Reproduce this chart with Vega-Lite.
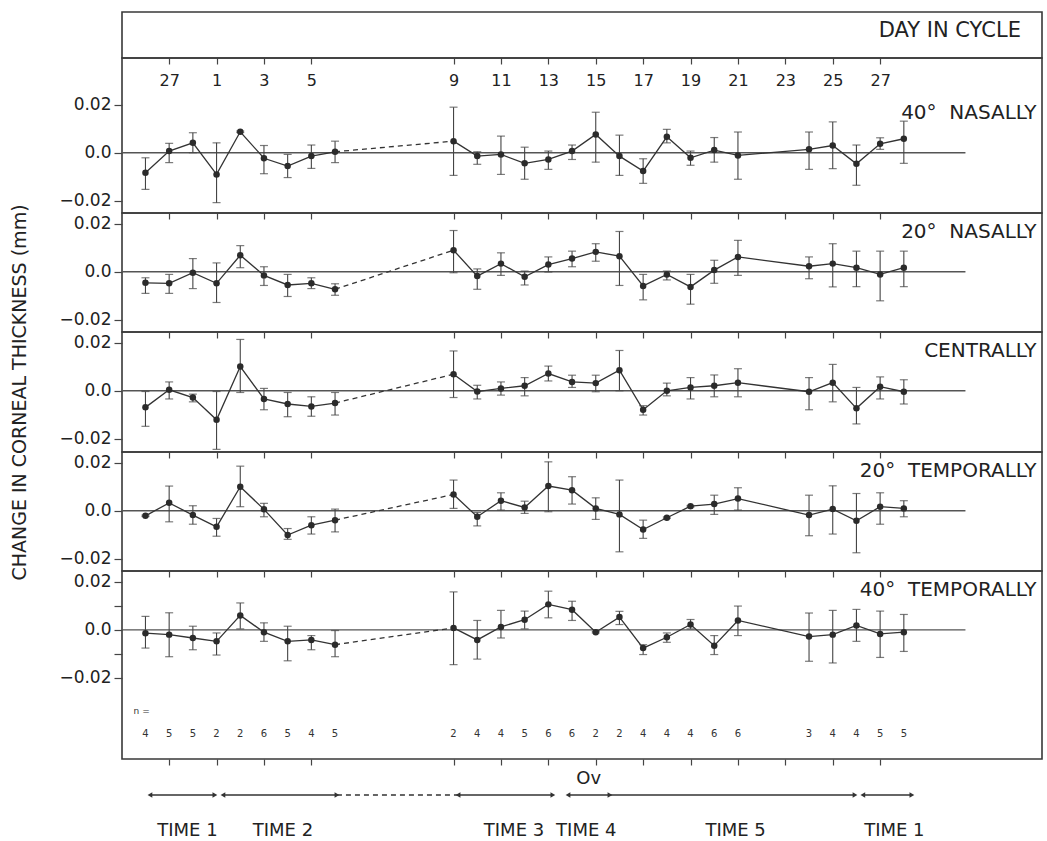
{
  "$schema": "https://vega.github.io/schema/vega-lite/v6.json",
  "padding": {"left": 10, "top": 11, "right": 5, "bottom": 0},
  "autosize": {"type": "pad"},
  "background": "white",
  "spacing": 0,
  "bounds": "flush",
  "datasets": {
    "N40": [
      {"pos": 0, "mean": -0.0083, "lo": -0.0152, "hi": -0.0021},
      {"pos": 1, "mean": 0.0007, "lo": -0.0041, "hi": 0.0039},
      {"pos": 2, "mean": 0.0041, "lo": 0.0, "hi": 0.0083},
      {"pos": 3, "mean": -0.009, "lo": -0.0207, "hi": 0.0041},
      {"pos": 4, "mean": 0.0087, "lo": 0.0084, "hi": 0.009},
      {"pos": 5, "mean": -0.0023, "lo": -0.0087, "hi": 0.003},
      {"pos": 6, "mean": -0.0055, "lo": -0.0103, "hi": -0.0007},
      {"pos": 7, "mean": -0.0014, "lo": -0.0065, "hi": 0.0032},
      {"pos": 8, "mean": 0.0004, "lo": -0.0041, "hi": 0.0048},
      {"pos": 13, "mean": 0.0048, "lo": -0.0094, "hi": 0.0189},
      {"pos": 14, "mean": -0.0014, "lo": -0.0048, "hi": 0.0004},
      {"pos": 15, "mean": -0.0007, "lo": -0.009, "hi": 0.0069},
      {"pos": 16, "mean": -0.0044, "lo": -0.011, "hi": 0.0023},
      {"pos": 17, "mean": -0.0028, "lo": -0.0069, "hi": 0.0007},
      {"pos": 18, "mean": 0.0007, "lo": -0.0028, "hi": 0.0032},
      {"pos": 19, "mean": 0.0076, "lo": -0.0039, "hi": 0.0168},
      {"pos": 20, "mean": -0.0014, "lo": -0.0094, "hi": 0.0073},
      {"pos": 21, "mean": -0.0076, "lo": -0.0127, "hi": -0.0025},
      {"pos": 22, "mean": 0.0066, "lo": 0.0041, "hi": 0.0097},
      {"pos": 23, "mean": -0.0021, "lo": -0.0052, "hi": 0.0007},
      {"pos": 24, "mean": 0.0011, "lo": -0.0039, "hi": 0.0063},
      {"pos": 25, "mean": -0.0011, "lo": -0.011, "hi": 0.0086},
      {"pos": 28, "mean": 0.0014, "lo": -0.0069, "hi": 0.0086},
      {"pos": 29, "mean": 0.003, "lo": -0.0066, "hi": 0.0128},
      {"pos": 30, "mean": -0.0046, "lo": -0.0135, "hi": 0.0032},
      {"pos": 31, "mean": 0.0037, "lo": 0.0014, "hi": 0.0062},
      {"pos": 32, "mean": 0.0058, "lo": -0.0044, "hi": 0.0131}
    ],
    "N20": [
      {"pos": 0, "mean": -0.0046, "lo": -0.009, "hi": -0.0025},
      {"pos": 1, "mean": -0.0048, "lo": -0.009, "hi": -0.0011},
      {"pos": 2, "mean": -0.0004, "lo": -0.007, "hi": 0.0055},
      {"pos": 3, "mean": -0.0048, "lo": -0.0128, "hi": 0.0037},
      {"pos": 4, "mean": 0.0069, "lo": 0.0017, "hi": 0.0109},
      {"pos": 5, "mean": -0.0015, "lo": -0.0057, "hi": 0.0021},
      {"pos": 6, "mean": -0.0055, "lo": -0.0103, "hi": -0.0011},
      {"pos": 7, "mean": -0.0048, "lo": -0.007, "hi": -0.0025},
      {"pos": 8, "mean": -0.0073, "lo": -0.0098, "hi": -0.005},
      {"pos": 13, "mean": 0.009, "lo": -0.0004, "hi": 0.0172},
      {"pos": 14, "mean": -0.0018, "lo": -0.0073, "hi": 0.0012},
      {"pos": 15, "mean": 0.0034, "lo": -0.0015, "hi": 0.0079},
      {"pos": 16, "mean": -0.0021, "lo": -0.0055, "hi": 0.0003},
      {"pos": 17, "mean": 0.003, "lo": -0.0001, "hi": 0.0062},
      {"pos": 18, "mean": 0.0055, "lo": 0.0021, "hi": 0.0086},
      {"pos": 19, "mean": 0.0083, "lo": 0.0044, "hi": 0.0117},
      {"pos": 20, "mean": 0.0065, "lo": -0.0057, "hi": 0.0168},
      {"pos": 21, "mean": -0.0059, "lo": -0.0117, "hi": -0.0011},
      {"pos": 22, "mean": -0.0011, "lo": -0.0034, "hi": 0.0003},
      {"pos": 23, "mean": -0.0063, "lo": -0.0135, "hi": -0.0011},
      {"pos": 24, "mean": 0.0007, "lo": -0.0048, "hi": 0.0048},
      {"pos": 25, "mean": 0.0062, "lo": -0.0015, "hi": 0.0131},
      {"pos": 28, "mean": 0.0023, "lo": -0.0029, "hi": 0.0062},
      {"pos": 29, "mean": 0.0034, "lo": -0.0063, "hi": 0.0117},
      {"pos": 30, "mean": 0.0017, "lo": -0.0062, "hi": 0.0086},
      {"pos": 31, "mean": -0.0011, "lo": -0.0121, "hi": 0.0086},
      {"pos": 32, "mean": 0.0017, "lo": -0.0062, "hi": 0.0086}
    ],
    "C": [
      {"pos": 0, "mean": -0.0069, "lo": -0.0148, "hi": -0.0003},
      {"pos": 1, "mean": 0.0004, "lo": -0.0034, "hi": 0.0037},
      {"pos": 2, "mean": -0.0028, "lo": -0.0046, "hi": -0.0014},
      {"pos": 3, "mean": -0.0121, "lo": -0.0244, "hi": -0.0003},
      {"pos": 4, "mean": 0.0101, "lo": -0.0007, "hi": 0.0214},
      {"pos": 5, "mean": -0.0034, "lo": -0.0079, "hi": 0.001},
      {"pos": 6, "mean": -0.0055, "lo": -0.0108, "hi": -0.0007},
      {"pos": 7, "mean": -0.0065, "lo": -0.0106, "hi": -0.0025},
      {"pos": 8, "mean": -0.0051, "lo": -0.0101, "hi": -0.0007},
      {"pos": 13, "mean": 0.0069, "lo": -0.0028, "hi": 0.0166},
      {"pos": 14, "mean": -0.0003, "lo": -0.0034, "hi": 0.0023},
      {"pos": 15, "mean": 0.001, "lo": -0.0018, "hi": 0.0037},
      {"pos": 16, "mean": 0.0021, "lo": -0.0021, "hi": 0.0055},
      {"pos": 17, "mean": 0.0072, "lo": 0.0041, "hi": 0.0103},
      {"pos": 18, "mean": 0.0037, "lo": 0.0014, "hi": 0.0065},
      {"pos": 19, "mean": 0.0032, "lo": -0.0004, "hi": 0.0065},
      {"pos": 20, "mean": 0.0086, "lo": 0.0, "hi": 0.0168},
      {"pos": 21, "mean": -0.0079, "lo": -0.0101, "hi": -0.0062},
      {"pos": 22, "mean": 0.0, "lo": -0.0021, "hi": 0.0032},
      {"pos": 23, "mean": 0.0014, "lo": -0.0034, "hi": 0.0055},
      {"pos": 24, "mean": 0.0021, "lo": -0.0025, "hi": 0.0066},
      {"pos": 25, "mean": 0.0034, "lo": -0.0025, "hi": 0.0092},
      {"pos": 28, "mean": -0.0004, "lo": -0.0079, "hi": 0.0055},
      {"pos": 29, "mean": 0.0034, "lo": -0.0046, "hi": 0.011},
      {"pos": 30, "mean": -0.0073, "lo": -0.0138, "hi": 0.0014},
      {"pos": 31, "mean": 0.0017, "lo": -0.0034, "hi": 0.0058},
      {"pos": 32, "mean": -0.0004, "lo": -0.0055, "hi": 0.0046}
    ],
    "T20": [
      {"pos": 0, "mean": -0.0021, "lo": -0.0024, "hi": -0.0018},
      {"pos": 1, "mean": 0.0033, "lo": -0.0046, "hi": 0.0103},
      {"pos": 2, "mean": -0.0018, "lo": -0.0056, "hi": 0.0021},
      {"pos": 3, "mean": -0.0067, "lo": -0.0106, "hi": -0.0032},
      {"pos": 4, "mean": 0.01, "lo": 0.0017, "hi": 0.0186},
      {"pos": 5, "mean": 0.0006, "lo": -0.0025, "hi": 0.0031},
      {"pos": 6, "mean": -0.0101, "lo": -0.0119, "hi": -0.0074},
      {"pos": 7, "mean": -0.006, "lo": -0.0097, "hi": -0.0025},
      {"pos": 8, "mean": -0.0039, "lo": -0.0088, "hi": 0.0007},
      {"pos": 13, "mean": 0.0068, "lo": 0.001, "hi": 0.0128},
      {"pos": 14, "mean": -0.0025, "lo": -0.0063, "hi": -0.0007},
      {"pos": 15, "mean": 0.0042, "lo": 0.0003, "hi": 0.0075},
      {"pos": 16, "mean": 0.0014, "lo": -0.0011, "hi": 0.004},
      {"pos": 17, "mean": 0.0103, "lo": -0.0004, "hi": 0.0204},
      {"pos": 18, "mean": 0.0086, "lo": 0.0028, "hi": 0.0142},
      {"pos": 19, "mean": 0.001, "lo": -0.0036, "hi": 0.0054},
      {"pos": 20, "mean": -0.0015, "lo": -0.0171, "hi": 0.0128},
      {"pos": 21, "mean": -0.0078, "lo": -0.0115, "hi": -0.0039},
      {"pos": 22, "mean": -0.0029, "lo": -0.0032, "hi": -0.0026},
      {"pos": 23, "mean": 0.0019, "lo": 0.0016, "hi": 0.0022},
      {"pos": 24, "mean": 0.0028, "lo": -0.0015, "hi": 0.0065},
      {"pos": 25, "mean": 0.0051, "lo": 0.0003, "hi": 0.0096},
      {"pos": 28, "mean": -0.0018, "lo": -0.0104, "hi": 0.0065},
      {"pos": 29, "mean": 0.0007, "lo": -0.0097, "hi": 0.0104},
      {"pos": 30, "mean": -0.0042, "lo": -0.0175, "hi": 0.0072},
      {"pos": 31, "mean": 0.0017, "lo": -0.0056, "hi": 0.0075},
      {"pos": 32, "mean": 0.001, "lo": -0.0025, "hi": 0.0042}
    ],
    "T40": [
      {"pos": 0, "mean": -0.0014, "lo": -0.0076, "hi": 0.0056},
      {"pos": 1, "mean": -0.002, "lo": -0.0112, "hi": 0.0071},
      {"pos": 2, "mean": -0.0034, "lo": -0.0083, "hi": 0.0015},
      {"pos": 3, "mean": -0.0048, "lo": -0.0105, "hi": -0.0013},
      {"pos": 4, "mean": 0.006, "lo": 0.0004, "hi": 0.0112},
      {"pos": 5, "mean": -0.001, "lo": -0.0048, "hi": 0.0029},
      {"pos": 6, "mean": -0.0048, "lo": -0.0129, "hi": 0.0015},
      {"pos": 7, "mean": -0.0042, "lo": -0.0083, "hi": -0.0024},
      {"pos": 8, "mean": -0.0062, "lo": -0.0112, "hi": -0.0003},
      {"pos": 13, "mean": 0.0008, "lo": -0.0145, "hi": 0.0158},
      {"pos": 14, "mean": -0.0042, "lo": -0.0122, "hi": 0.0039},
      {"pos": 15, "mean": 0.0012, "lo": -0.0034, "hi": 0.0081},
      {"pos": 16, "mean": 0.0042, "lo": 0.0004, "hi": 0.0078},
      {"pos": 17, "mean": 0.0106, "lo": 0.005, "hi": 0.0161},
      {"pos": 18, "mean": 0.0084, "lo": 0.0039, "hi": 0.0119},
      {"pos": 19, "mean": -0.001, "lo": -0.0013, "hi": -0.0007},
      {"pos": 20, "mean": 0.0053, "lo": 0.0022, "hi": 0.0077},
      {"pos": 21, "mean": -0.0076, "lo": -0.0103, "hi": -0.0062},
      {"pos": 22, "mean": -0.0031, "lo": -0.0052, "hi": -0.0013},
      {"pos": 23, "mean": 0.0022, "lo": 0.0004, "hi": 0.0043},
      {"pos": 24, "mean": -0.0066, "lo": -0.0103, "hi": -0.0024},
      {"pos": 25, "mean": 0.0039, "lo": -0.0024, "hi": 0.0099},
      {"pos": 28, "mean": -0.0028, "lo": -0.0131, "hi": 0.007},
      {"pos": 29, "mean": -0.002, "lo": -0.0138, "hi": 0.0081},
      {"pos": 30, "mean": 0.0018, "lo": -0.0048, "hi": 0.0085},
      {"pos": 31, "mean": -0.0017, "lo": -0.0115, "hi": 0.0078},
      {"pos": 32, "mean": -0.001, "lo": -0.009, "hi": 0.0064}
    ],
    "counts": [
      {"pos": 0, "n": 4}, {"pos": 1, "n": 5}, {"pos": 2, "n": 5}, {"pos": 3, "n": 2},
      {"pos": 4, "n": 2}, {"pos": 5, "n": 6}, {"pos": 6, "n": 5}, {"pos": 7, "n": 4},
      {"pos": 8, "n": 5}, {"pos": 13, "n": 2}, {"pos": 14, "n": 4}, {"pos": 15, "n": 4},
      {"pos": 16, "n": 5}, {"pos": 17, "n": 6}, {"pos": 18, "n": 6}, {"pos": 19, "n": 2},
      {"pos": 20, "n": 2}, {"pos": 21, "n": 4}, {"pos": 22, "n": 4}, {"pos": 23, "n": 4},
      {"pos": 24, "n": 6}, {"pos": 25, "n": 6}, {"pos": 28, "n": 3}, {"pos": 29, "n": 4},
      {"pos": 30, "n": 4}, {"pos": 31, "n": 5}, {"pos": 32, "n": 5}
    ],
    "spans": [
      {"from": 0.19, "to": 2.93, "style": "solid"},
      {"from": 3.27, "to": 8.08, "style": "solid"},
      {"from": 8.08, "to": 13.19, "style": "dashed"},
      {"from": 13.19, "to": 17.19, "style": "solid"},
      {"from": 17.83, "to": 19.6, "style": "solid"},
      {"from": 19.6, "to": 29.94, "style": "solid"},
      {"from": 30.27, "to": 32.34, "style": "solid"}
    ],
    "heads": [
      {"at": 0.19, "dir": "left"}, {"at": 2.93, "dir": "right"},
      {"at": 3.27, "dir": "left"}, {"at": 8.08, "dir": "right"},
      {"at": 13.19, "dir": "left"}, {"at": 17.19, "dir": "right"},
      {"at": 17.83, "dir": "left"}, {"at": 19.6, "dir": "right"},
      {"at": 29.94, "dir": "right"},
      {"at": 30.27, "dir": "left"}, {"at": 32.34, "dir": "right"}
    ],
    "periods": [
      {"label": "TIME 1", "at": 1.77},
      {"label": "TIME 2", "at": 5.8},
      {"label": "TIME 3", "at": 15.55},
      {"label": "TIME 4", "at": 18.6},
      {"label": "TIME 5", "at": 24.9},
      {"label": "TIME 1", "at": 31.6}
    ]
  },
  "vconcat": [
    {
      "width": 920,
      "height": 46,
      "data": {"values": [{"label": "DAY IN CYCLE"}]},
      "mark": {"type": "text", "align": "right", "baseline": "middle", "fontSize": 21, "color": "#222"},
      "encoding": {
        "x": {"datum": 36.94, "type": "quantitative",
              "scale": {"domain": [-0.99, 37.83], "nice": false, "zero": false},
              "axis": {"values": [1, 3, 5, 7, 13, 15, 17, 19, 21, 23, 25, 27, 29, 31], "tickSize": 6, "labelPadding": 8, "labelFontSize": 16,
                       "labelExpr": "datum.value < 3 ? datum.value + 26 : (datum.value < 13 ? datum.value - 2 : datum.value - 4)", "title": null}},
        "y": {"datum": 0.42, "type": "quantitative", "scale": {"domain": [0, 1], "reverse": true}, "axis": null},
        "text": {"field": "label"}
      }
    },
    {
      "width": 920,
      "height": 155,
      "data": {"name": "N40"},
      "layer": [
        {"data": {"values": [{}]}, "mark": {"type": "rule", "color": "#555", "strokeWidth": 1.4},
         "encoding": {"x": {"datum": -0.99, "type": "quantitative", "scale": {"domain": [-0.99, 37.83], "nice": false, "zero": false}},
                      "x2": {"datum": 34.6},
                      "y": {"datum": 0, "type": "quantitative", "scale": {"domain": [-0.025, 0.0393], "nice": false, "zero": false}}}},
        {"transform": [{"filter": "datum.pos <= 8"}], "mark": {"type": "line", "color": "#333", "strokeWidth": 1.3},
         "encoding": {"x": {"field": "pos", "type": "quantitative", "scale": {"domain": [-0.99, 37.83], "nice": false, "zero": false},
                            "axis": {"values": [1, 3, 5, 7, 13, 15, 17, 19, 21, 23, 25, 27, 29, 31], "labels": false, "tickSize": 6, "title": null}},
                      "y": {"field": "mean", "type": "quantitative", "scale": {"domain": [-0.025, 0.0393], "nice": false, "zero": false},
                            "axis": {"values": [-0.02, -0.01, 0, 0.01, 0.02], "tickSize": 8, "labelPadding": 3, "labelFontSize": 17, "title": null,
                                     "labelExpr": "datum.value == 0 ? '0.0' : (abs(datum.value) < 0.015 ? '' : format(datum.value, '.2f'))"}}}},
        {"transform": [{"filter": "datum.pos >= 13"}], "mark": {"type": "line", "color": "#333", "strokeWidth": 1.3},
         "encoding": {"x": {"field": "pos", "type": "quantitative"}, "y": {"field": "mean", "type": "quantitative"}}},
        {"transform": [{"filter": "datum.pos == 8 || datum.pos == 13"}], "mark": {"type": "line", "color": "#333", "strokeWidth": 1.3, "strokeDash": [5, 4]},
         "encoding": {"x": {"field": "pos", "type": "quantitative"}, "y": {"field": "mean", "type": "quantitative"}}},
        {"mark": {"type": "rule", "color": "#444", "strokeWidth": 1.1},
         "encoding": {"x": {"field": "pos", "type": "quantitative"}, "y": {"field": "lo", "type": "quantitative"}, "y2": {"field": "hi"}}},
        {"mark": {"type": "tick", "orient": "horizontal", "size": 8, "thickness": 1.2, "color": "#444"},
         "encoding": {"x": {"field": "pos", "type": "quantitative"}, "y": {"field": "lo", "type": "quantitative"}}},
        {"mark": {"type": "tick", "orient": "horizontal", "size": 8, "thickness": 1.2, "color": "#444"},
         "encoding": {"x": {"field": "pos", "type": "quantitative"}, "y": {"field": "hi", "type": "quantitative"}}},
        {"mark": {"type": "circle", "size": 42, "color": "#2b2b2b", "opacity": 1},
         "encoding": {"x": {"field": "pos", "type": "quantitative"}, "y": {"field": "mean", "type": "quantitative"}}},
        {"data": {"values": [{"name": "40°\u00a0 NASALLY"}]},
         "mark": {"type": "text", "align": "right", "baseline": "middle", "fontSize": 20, "color": "#222"},
         "encoding": {"x": {"datum": 37.6, "type": "quantitative"}, "y": {"datum": 0.0166, "type": "quantitative"}, "text": {"field": "name"}}}
      ]
    },
    {
      "width": 920,
      "height": 119,
      "data": {"name": "N20"},
      "layer": [
        {"data": {"values": [{}]}, "mark": {"type": "rule", "color": "#555", "strokeWidth": 1.4},
         "encoding": {"x": {"datum": -0.99, "type": "quantitative", "scale": {"domain": [-0.99, 37.83], "nice": false, "zero": false}},
                      "x2": {"datum": 34.6},
                      "y": {"datum": 0, "type": "quantitative", "scale": {"domain": [-0.0251, 0.0245], "nice": false, "zero": false}}}},
        {"transform": [{"filter": "datum.pos <= 8"}], "mark": {"type": "line", "color": "#333", "strokeWidth": 1.3},
         "encoding": {"x": {"field": "pos", "type": "quantitative", "scale": {"domain": [-0.99, 37.83], "nice": false, "zero": false},
                            "axis": {"values": [1, 3, 5, 7, 13, 15, 17, 19, 21, 23, 25, 27, 29, 31], "labels": false, "tickSize": 6, "title": null}},
                      "y": {"field": "mean", "type": "quantitative", "scale": {"domain": [-0.0251, 0.0245], "nice": false, "zero": false},
                            "axis": {"values": [-0.02, -0.01, 0, 0.01, 0.02], "tickSize": 8, "labelPadding": 3, "labelFontSize": 17, "title": null,
                                     "labelExpr": "datum.value == 0 ? '0.0' : (abs(datum.value) < 0.015 ? '' : format(datum.value, '.2f'))"}}}},
        {"transform": [{"filter": "datum.pos >= 13"}], "mark": {"type": "line", "color": "#333", "strokeWidth": 1.3},
         "encoding": {"x": {"field": "pos", "type": "quantitative"}, "y": {"field": "mean", "type": "quantitative"}}},
        {"transform": [{"filter": "datum.pos == 8 || datum.pos == 13"}], "mark": {"type": "line", "color": "#333", "strokeWidth": 1.3, "strokeDash": [5, 4]},
         "encoding": {"x": {"field": "pos", "type": "quantitative"}, "y": {"field": "mean", "type": "quantitative"}}},
        {"mark": {"type": "rule", "color": "#444", "strokeWidth": 1.1},
         "encoding": {"x": {"field": "pos", "type": "quantitative"}, "y": {"field": "lo", "type": "quantitative"}, "y2": {"field": "hi"}}},
        {"mark": {"type": "tick", "orient": "horizontal", "size": 8, "thickness": 1.2, "color": "#444"},
         "encoding": {"x": {"field": "pos", "type": "quantitative"}, "y": {"field": "lo", "type": "quantitative"}}},
        {"mark": {"type": "tick", "orient": "horizontal", "size": 8, "thickness": 1.2, "color": "#444"},
         "encoding": {"x": {"field": "pos", "type": "quantitative"}, "y": {"field": "hi", "type": "quantitative"}}},
        {"mark": {"type": "circle", "size": 42, "color": "#2b2b2b", "opacity": 1},
         "encoding": {"x": {"field": "pos", "type": "quantitative"}, "y": {"field": "mean", "type": "quantitative"}}},
        {"data": {"values": [{"name": "20°\u00a0 NASALLY"}]},
         "mark": {"type": "text", "align": "right", "baseline": "middle", "fontSize": 20, "color": "#222"},
         "encoding": {"x": {"datum": 37.6, "type": "quantitative"}, "y": {"datum": 0.0166, "type": "quantitative"}, "text": {"field": "name"}}}
      ]
    },
    {
      "width": 920,
      "height": 120,
      "data": {"name": "C"},
      "layer": [
        {"data": {"values": [{}]}, "mark": {"type": "rule", "color": "#555", "strokeWidth": 1.4},
         "encoding": {"x": {"datum": -0.99, "type": "quantitative", "scale": {"domain": [-0.99, 37.83], "nice": false, "zero": false}},
                      "x2": {"datum": 34.6},
                      "y": {"datum": 0, "type": "quantitative", "scale": {"domain": [-0.0255, 0.0245], "nice": false, "zero": false}}}},
        {"transform": [{"filter": "datum.pos <= 8"}], "mark": {"type": "line", "color": "#333", "strokeWidth": 1.3},
         "encoding": {"x": {"field": "pos", "type": "quantitative", "scale": {"domain": [-0.99, 37.83], "nice": false, "zero": false},
                            "axis": {"values": [1, 3, 5, 7, 13, 15, 17, 19, 21, 23, 25, 27, 29, 31], "labels": false, "tickSize": 6, "title": null}},
                      "y": {"field": "mean", "type": "quantitative", "scale": {"domain": [-0.0255, 0.0245], "nice": false, "zero": false},
                            "axis": {"values": [-0.02, -0.01, 0, 0.01, 0.02], "tickSize": 8, "labelPadding": 3, "labelFontSize": 17,
                                     "title": "CHANGE IN CORNEAL THICKNESS (mm)", "titleFontSize": 19, "titlePadding": 29, "titleColor": "#222",
                                     "labelExpr": "datum.value == 0 ? '0.0' : (abs(datum.value) < 0.015 ? '' : format(datum.value, '.2f'))"}}}},
        {"transform": [{"filter": "datum.pos >= 13"}], "mark": {"type": "line", "color": "#333", "strokeWidth": 1.3},
         "encoding": {"x": {"field": "pos", "type": "quantitative"}, "y": {"field": "mean", "type": "quantitative"}}},
        {"transform": [{"filter": "datum.pos == 8 || datum.pos == 13"}], "mark": {"type": "line", "color": "#333", "strokeWidth": 1.3, "strokeDash": [5, 4]},
         "encoding": {"x": {"field": "pos", "type": "quantitative"}, "y": {"field": "mean", "type": "quantitative"}}},
        {"mark": {"type": "rule", "color": "#444", "strokeWidth": 1.1},
         "encoding": {"x": {"field": "pos", "type": "quantitative"}, "y": {"field": "lo", "type": "quantitative"}, "y2": {"field": "hi"}}},
        {"mark": {"type": "tick", "orient": "horizontal", "size": 8, "thickness": 1.2, "color": "#444"},
         "encoding": {"x": {"field": "pos", "type": "quantitative"}, "y": {"field": "lo", "type": "quantitative"}}},
        {"mark": {"type": "tick", "orient": "horizontal", "size": 8, "thickness": 1.2, "color": "#444"},
         "encoding": {"x": {"field": "pos", "type": "quantitative"}, "y": {"field": "hi", "type": "quantitative"}}},
        {"mark": {"type": "circle", "size": 42, "color": "#2b2b2b", "opacity": 1},
         "encoding": {"x": {"field": "pos", "type": "quantitative"}, "y": {"field": "mean", "type": "quantitative"}}},
        {"data": {"values": [{"name": "CENTRALLY"}]},
         "mark": {"type": "text", "align": "right", "baseline": "middle", "fontSize": 20, "color": "#222"},
         "encoding": {"x": {"datum": 37.6, "type": "quantitative"}, "y": {"datum": 0.0166, "type": "quantitative"}, "text": {"field": "name"}}}
      ]
    },
    {
      "width": 920,
      "height": 119,
      "data": {"name": "T20"},
      "layer": [
        {"data": {"values": [{}]}, "mark": {"type": "rule", "color": "#555", "strokeWidth": 1.4},
         "encoding": {"x": {"datum": -0.99, "type": "quantitative", "scale": {"domain": [-0.99, 37.83], "nice": false, "zero": false}},
                      "x2": {"datum": 34.6},
                      "y": {"datum": 0, "type": "quantitative", "scale": {"domain": [-0.0251, 0.0245], "nice": false, "zero": false}}}},
        {"transform": [{"filter": "datum.pos <= 8"}], "mark": {"type": "line", "color": "#333", "strokeWidth": 1.3},
         "encoding": {"x": {"field": "pos", "type": "quantitative", "scale": {"domain": [-0.99, 37.83], "nice": false, "zero": false},
                            "axis": {"values": [1, 3, 5, 7, 13, 15, 17, 19, 21, 23, 25, 27, 29, 31], "labels": false, "tickSize": 6, "title": null}},
                      "y": {"field": "mean", "type": "quantitative", "scale": {"domain": [-0.0251, 0.0245], "nice": false, "zero": false},
                            "axis": {"values": [-0.02, -0.01, 0, 0.01, 0.02], "tickSize": 8, "labelPadding": 3, "labelFontSize": 17, "title": null,
                                     "labelExpr": "datum.value == 0 ? '0.0' : (abs(datum.value) < 0.015 ? '' : format(datum.value, '.2f'))"}}}},
        {"transform": [{"filter": "datum.pos >= 13"}], "mark": {"type": "line", "color": "#333", "strokeWidth": 1.3},
         "encoding": {"x": {"field": "pos", "type": "quantitative"}, "y": {"field": "mean", "type": "quantitative"}}},
        {"transform": [{"filter": "datum.pos == 8 || datum.pos == 13"}], "mark": {"type": "line", "color": "#333", "strokeWidth": 1.3, "strokeDash": [5, 4]},
         "encoding": {"x": {"field": "pos", "type": "quantitative"}, "y": {"field": "mean", "type": "quantitative"}}},
        {"mark": {"type": "rule", "color": "#444", "strokeWidth": 1.1},
         "encoding": {"x": {"field": "pos", "type": "quantitative"}, "y": {"field": "lo", "type": "quantitative"}, "y2": {"field": "hi"}}},
        {"mark": {"type": "tick", "orient": "horizontal", "size": 8, "thickness": 1.2, "color": "#444"},
         "encoding": {"x": {"field": "pos", "type": "quantitative"}, "y": {"field": "lo", "type": "quantitative"}}},
        {"mark": {"type": "tick", "orient": "horizontal", "size": 8, "thickness": 1.2, "color": "#444"},
         "encoding": {"x": {"field": "pos", "type": "quantitative"}, "y": {"field": "hi", "type": "quantitative"}}},
        {"mark": {"type": "circle", "size": 42, "color": "#2b2b2b", "opacity": 1},
         "encoding": {"x": {"field": "pos", "type": "quantitative"}, "y": {"field": "mean", "type": "quantitative"}}},
        {"data": {"values": [{"name": "20°\u00a0 TEMPORALLY"}]},
         "mark": {"type": "text", "align": "right", "baseline": "middle", "fontSize": 20, "color": "#222"},
         "encoding": {"x": {"datum": 37.6, "type": "quantitative"}, "y": {"datum": 0.0166, "type": "quantitative"}, "text": {"field": "name"}}}
      ]
    },
    {
      "width": 920,
      "height": 188,
      "data": {"name": "T40"},
      "layer": [
        {"data": {"values": [{}]}, "mark": {"type": "rule", "color": "#555", "strokeWidth": 1.4},
         "encoding": {"x": {"datum": -0.99, "type": "quantitative", "scale": {"domain": [-0.99, 37.83], "nice": false, "zero": false}},
                      "x2": {"datum": 34.6},
                      "y": {"datum": 0, "type": "quantitative", "scale": {"domain": [-0.0538, 0.0245], "nice": false, "zero": false}}}},
        {"transform": [{"filter": "datum.pos <= 8"}], "mark": {"type": "line", "color": "#333", "strokeWidth": 1.3},
         "encoding": {"x": {"field": "pos", "type": "quantitative", "scale": {"domain": [-0.99, 37.83], "nice": false, "zero": false},
                            "axis": {"values": [1, 3, 5, 7, 13, 15, 17, 19, 21, 23, 25, 27, 29, 31], "labels": false, "tickSize": 6, "title": null}},
                      "y": {"field": "mean", "type": "quantitative", "scale": {"domain": [-0.0538, 0.0245], "nice": false, "zero": false},
                            "axis": {"values": [-0.02, -0.01, 0, 0.01, 0.02], "tickSize": 8, "labelPadding": 3, "labelFontSize": 17, "title": null,
                                     "labelExpr": "datum.value == 0 ? '0.0' : (abs(datum.value) < 0.015 ? '' : format(datum.value, '.2f'))"}}}},
        {"transform": [{"filter": "datum.pos >= 13"}], "mark": {"type": "line", "color": "#333", "strokeWidth": 1.3},
         "encoding": {"x": {"field": "pos", "type": "quantitative"}, "y": {"field": "mean", "type": "quantitative"}}},
        {"transform": [{"filter": "datum.pos == 8 || datum.pos == 13"}], "mark": {"type": "line", "color": "#333", "strokeWidth": 1.3, "strokeDash": [5, 4]},
         "encoding": {"x": {"field": "pos", "type": "quantitative"}, "y": {"field": "mean", "type": "quantitative"}}},
        {"mark": {"type": "rule", "color": "#444", "strokeWidth": 1.1},
         "encoding": {"x": {"field": "pos", "type": "quantitative"}, "y": {"field": "lo", "type": "quantitative"}, "y2": {"field": "hi"}}},
        {"mark": {"type": "tick", "orient": "horizontal", "size": 8, "thickness": 1.2, "color": "#444"},
         "encoding": {"x": {"field": "pos", "type": "quantitative"}, "y": {"field": "lo", "type": "quantitative"}}},
        {"mark": {"type": "tick", "orient": "horizontal", "size": 8, "thickness": 1.2, "color": "#444"},
         "encoding": {"x": {"field": "pos", "type": "quantitative"}, "y": {"field": "hi", "type": "quantitative"}}},
        {"mark": {"type": "circle", "size": 42, "color": "#2b2b2b", "opacity": 1},
         "encoding": {"x": {"field": "pos", "type": "quantitative"}, "y": {"field": "mean", "type": "quantitative"}}},
        {"data": {"values": [{"name": "40°\u00a0 TEMPORALLY"}]},
         "mark": {"type": "text", "align": "right", "baseline": "middle", "fontSize": 20, "color": "#222"},
         "encoding": {"x": {"datum": 37.6, "type": "quantitative"}, "y": {"datum": 0.0166, "type": "quantitative"}, "text": {"field": "name"}}},
        {"data": {"name": "counts"},
         "mark": {"type": "text", "baseline": "middle", "fontSize": 10, "color": "#333"},
         "encoding": {"x": {"field": "pos", "type": "quantitative"}, "y": {"datum": -0.0435, "type": "quantitative"}, "text": {"field": "n"}}},
        {"data": {"values": [{"t": "n ="}]},
         "mark": {"type": "text", "baseline": "middle", "fontSize": 9, "color": "#333"},
         "encoding": {"x": {"datum": -0.16, "type": "quantitative"}, "y": {"datum": -0.0339, "type": "quantitative"}, "text": {"field": "t"}}}
      ]
    },
    {
      "width": 920,
      "height": 83,
      "view": {"stroke": null},
      "layer": [
        {"data": {"name": "spans"}, "transform": [{"filter": "datum.style == 'solid'"}],
         "mark": {"type": "rule", "color": "#333", "strokeWidth": 1.3},
         "encoding": {"x": {"field": "from", "type": "quantitative", "scale": {"domain": [-0.99, 37.83], "nice": false, "zero": false}, "axis": null},
                      "x2": {"field": "to"},
                      "y": {"datum": 0.434, "type": "quantitative", "scale": {"domain": [0, 1], "reverse": true}, "axis": null}}},
        {"data": {"name": "spans"}, "transform": [{"filter": "datum.style == 'dashed'"}],
         "mark": {"type": "rule", "color": "#333", "strokeWidth": 1.3, "strokeDash": [5, 4]},
         "encoding": {"x": {"field": "from", "type": "quantitative", "axis": null},
                      "x2": {"field": "to"},
                      "y": {"datum": 0.434, "type": "quantitative", "axis": null}}},
        {"data": {"name": "heads"},
         "mark": {"type": "point", "filled": true, "size": 30, "color": "#333", "opacity": 1},
         "encoding": {"x": {"field": "at", "type": "quantitative", "axis": null},
                      "y": {"datum": 0.434, "type": "quantitative", "axis": null},
                      "shape": {"field": "dir", "type": "nominal", "scale": {"domain": ["left", "right"], "range": ["triangle-left", "triangle-right"]}, "legend": null}}},
        {"data": {"name": "periods"},
         "mark": {"type": "text", "baseline": "middle", "fontSize": 18, "color": "#222"},
         "encoding": {"x": {"field": "at", "type": "quantitative", "axis": null},
                      "y": {"datum": 0.873, "type": "quantitative", "axis": null},
                      "text": {"field": "label"}}},
        {"data": {"values": [{"label": "Ov"}]},
         "mark": {"type": "text", "baseline": "middle", "fontSize": 18, "color": "#222"},
         "encoding": {"x": {"datum": 18.7, "type": "quantitative", "axis": null},
                      "y": {"datum": 0.24, "type": "quantitative", "axis": null},
                      "text": {"field": "label"}}}
      ]
    }
  ],
  "config": {
    "font": "DejaVu Sans",
    "view": {"stroke": "#383838", "strokeWidth": 1.6},
    "axis": {"labelFont": "DejaVu Sans", "titleFont": "DejaVu Sans", "titleFontWeight": "normal", "labelColor": "#222",
             "tickColor": "#444", "tickWidth": 1.2, "grid": false, "domain": false},
    "text": {"font": "DejaVu Sans"}
  }
}
